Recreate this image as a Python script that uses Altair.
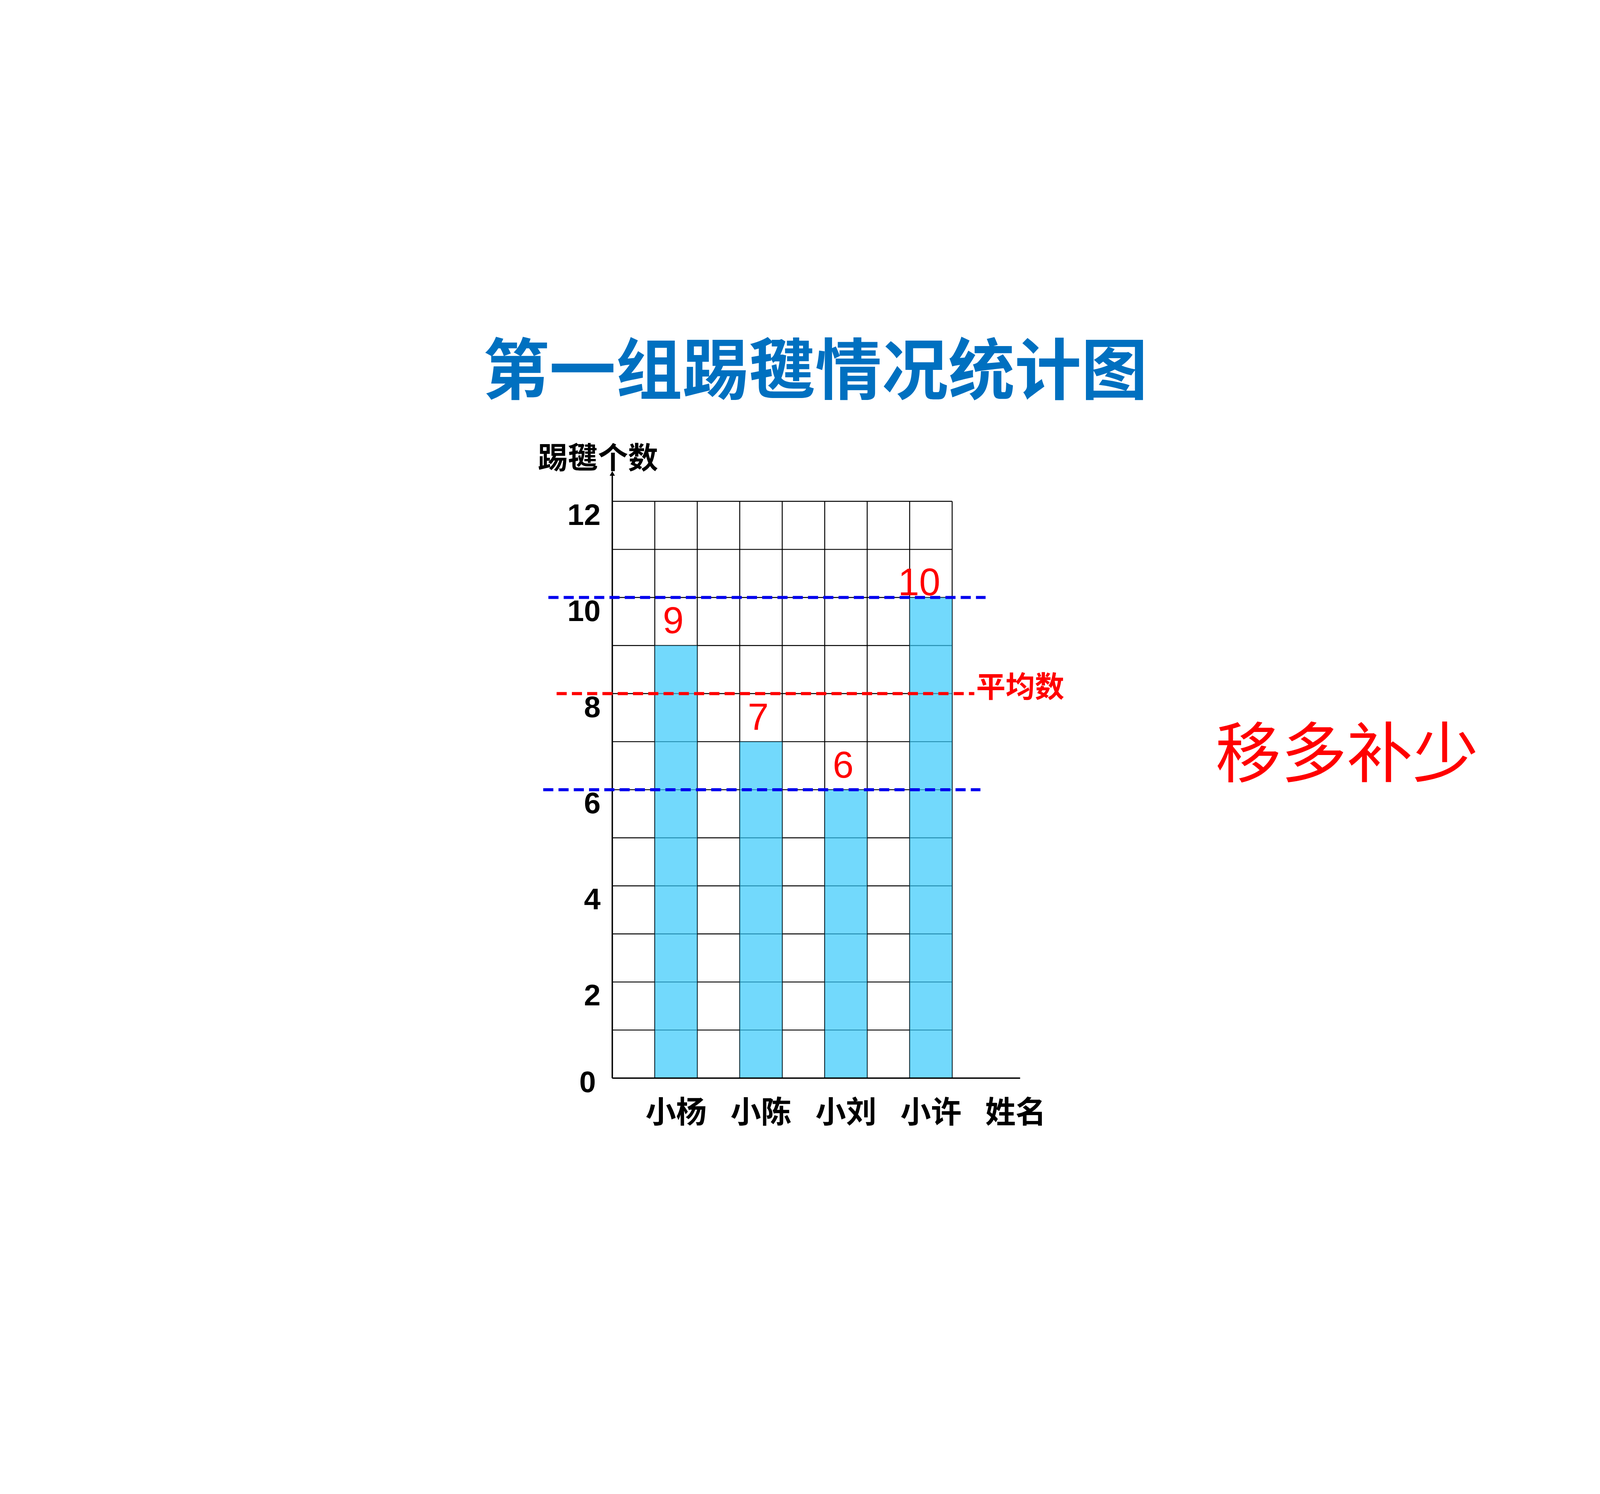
import altair as alt
import pandas as pd

# ---- data ----
names = ["小杨", "小陈", "小刘", "小许"]
counts = [9, 7, 6, 10]
spacers = ["c0", "c1", "c2", "c3"]
end_col = "end"
y_ticks = [0, 2, 4, 6, 8, 10, 12]
grid_rows = list(range(0, 13))
y_axis_top = 12.6

title_text = "第一组踢毽情况统计图"
y_title = "踢毽个数"
x_title = "姓名"
avg_label = "平均数"
note_text = "移多补少"

# ---- layout (pixels inside the drawing) ----
VW, VH = 6784, 3809          # whole drawing (page minus 8px margins)
OX, OY = 2593, 736           # top-left of the plotting frame
W, H = 1736, 2578            # plotting frame size

domain = []
for s, n in zip(spacers, names):
    domain += [s, n]
domain.append(end_col)

df = pd.DataFrame({"name": names, "count": counts})
vgrid_df = pd.DataFrame({"col": domain, "y0": 0, "y1": max(grid_rows)})
hgrid_df = pd.DataFrame({"row": grid_rows, "xs": domain[0], "xe": domain[-1]})
yaxis_df = pd.DataFrame({"c": [domain[0]], "y0": [0], "y1": [y_axis_top]})
xaxis_df = pd.DataFrame({"xs": [domain[0]], "y": [0]})
ylab_df = pd.DataFrame({"v": y_ticks})
xlab_df = pd.DataFrame({"name": names, "y": 0})

CJK = "Noto Sans CJK SC"
NARROW = "Liberation Sans Narrow, Liberation Sans, sans-serif"

xscale = alt.Scale(type="band", domain=domain, range=[OX, OX + W],
                   paddingInner=0, paddingOuter=0.3, align=0)
yscale = alt.Scale(domain=[0, y_axis_top], range=[OY + H, OY], nice=False, zero=True)

X = lambda f, bp: alt.X(f, scale=xscale, bandPosition=bp, axis=None)
Y = lambda f: alt.Y(f, scale=yscale, axis=None)

vgrid = alt.Chart(vgrid_df).mark_rule(color="black", strokeWidth=4).encode(
    x=X("col:N", 0), y=Y("y0:Q"), y2="y1:Q",
)
hgrid = alt.Chart(hgrid_df).mark_rule(color="black", strokeWidth=4).encode(
    x=X("xs:N", 0), x2=alt.X2("xe:N", bandPosition=0), y=Y("row:Q"),
)
bars = alt.Chart(df).mark_bar(color="#37CAFB", opacity=0.7, stroke="#10323f", strokeWidth=2).encode(
    x=X("name:N", 0), y=Y("count:Q"),
)
labelled = alt.Chart(df).transform_joinaggregate(mx="max(count)")
values = labelled.transform_filter("datum.count < datum.mx").mark_text(
    color="#FF0000", font="Liberation Sans", fontSize=160, baseline="bottom", dy=-18, dx=-12
).encode(x=X("name:N", 0.5), y=Y("count:Q"), text="count:Q")
top_value = labelled.transform_filter("datum.count == datum.mx").mark_text(
    color="#FF0000", font="Liberation Sans", fontSize=162, baseline="alphabetic", dy=-10, dx=-50
).encode(x=X("name:N", 0.5), y=Y("count:Q"), text="count:Q")

# axes drawn as marks
y_line = alt.Chart(yaxis_df).mark_rule(color="black", strokeWidth=6).encode(
    x=X("c:N", 0), y=Y("y0:Q"), y2="y1:Q"
)
x_line = alt.Chart(xaxis_df).mark_rule(color="black", strokeWidth=6).encode(
    x=X("xs:N", 0), x2=alt.value(OX + W), y=Y("y:Q")
)
y_labels = alt.Chart(ylab_df).transform_filter("datum.v > 0").mark_text(
    font=NARROW, fontSize=127, fontWeight="bold", color="black", align="right", baseline="middle", dy=62
).encode(x=alt.value(OX - 50), y=Y("v:Q"), text="v:Q")
zero_label = alt.Chart(ylab_df).transform_filter("datum.v == 0").mark_text(
    font=NARROW, fontSize=127, fontWeight="bold", color="black", align="right", baseline="middle", dy=22
).encode(x=alt.value(OX - 70), y=Y("v:Q"), text="v:Q")
x_labels = alt.Chart(xlab_df).mark_text(
    font=CJK, fontSize=130, fontWeight="bold", color="black", align="center", baseline="middle", dy=152
).encode(x=X("name:N", 0.5), y=Y("y:Q"), text="name:N")

agg = alt.Chart(df).transform_aggregate(avg="mean(count)", hi="max(count)", lo="min(count)")
x_name = agg.mark_text(
    font=CJK, fontSize=130, fontWeight="bold", color="black", align="center", baseline="middle", dy=152
).encode(x=alt.value(OX + 1717), y=alt.value(OY + H), text=alt.value(x_title))
y_name = agg.mark_text(
    font=CJK, fontSize=128, fontWeight="bold", color="black", align="center", baseline="middle"
).encode(x=alt.value(OX - 61), y=alt.value(OY - 54), text=alt.value(y_title))

dash = [43, 22]
hi_line = agg.mark_rule(color="#0000EE", strokeWidth=13, strokeDash=dash).encode(
    y=Y("hi:Q"), x=alt.value(OX - 272), x2=alt.value(OX + 1589)
)
lo_line = agg.mark_rule(color="#0000EE", strokeWidth=13, strokeDash=dash).encode(
    y=Y("lo:Q"), x=alt.value(OX - 294), x2=alt.value(OX + 1567)
)
avg_line = agg.mark_rule(color="#FF0000", strokeWidth=13, strokeDash=dash).encode(
    y=Y("avg:Q"), x=alt.value(OX - 237), x2=alt.value(OX + 1541)
)
avg_text = agg.mark_text(
    color="#FF0000", font=CJK, fontSize=125, fontWeight="bold", align="left", baseline="middle", dy=-22
).encode(y=Y("avg:Q"), x=alt.value(OX + 1549), text=alt.value(avg_label))
arrow = agg.mark_point(shape="triangle-up", filled=True, color="black", size=500, opacity=1).encode(
    x=alt.value(OX), y=alt.value(OY + 4)
)
note = agg.mark_text(
    color="#FF0000", font=CJK, fontSize=280, align="center", baseline="middle"
).encode(x=alt.value(OX + 3127), y=alt.value(OY + 1212), text=alt.value(note_text))
title = agg.mark_text(
    color="#0070C0", font=CJK, fontSize=283, fontWeight="bold", align="center", baseline="middle"
).encode(x=alt.value(OX + 864), y=alt.value(OY - 418), text=alt.value(title_text))

chart = alt.layer(
    vgrid, hgrid, bars, values, top_value, y_line, x_line, y_labels, zero_label, x_labels,
    x_name, y_name, hi_line, lo_line, avg_line, avg_text, arrow, note, title
).properties(
    width=VW,
    height=VH,
    padding=0,
).configure(background="white").configure_view(stroke=None)

chart.save("out.html", embed_options={"renderer": "svg", "actions": False})
